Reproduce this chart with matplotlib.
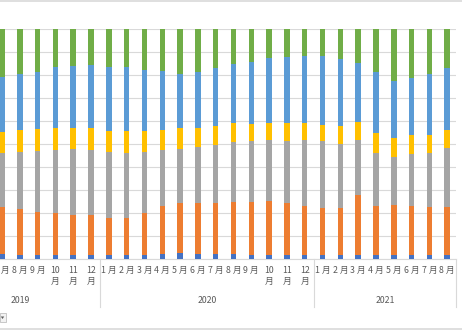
import numpy as np
import matplotlib
matplotlib.use("Agg")
import matplotlib.pyplot as plt
from matplotlib.lines import Line2D
from matplotlib.patches import Rectangle, Polygon

plt.rcParams["font.family"] = ["Noto Sans CJK JP", "DejaVu Sans"]

# 年ごとの月（2019年は4月から始まるが、7月より前は表示範囲外）
years = ["2019", "2020", "2021"]
year_first_month = [4, 1, 1]
months_2019 = [7, 8, 9, 10, 11, 12]
months_2020 = [1, 2, 3, 4, 5, 6, 7, 8, 9, 10, 11, 12]
months_2021 = [1, 2, 3, 4, 5, 6, 7, 8]

# 構成比 (%) 下から順に積み上げ
s1 = [2.2, 1.7, 1.7, 1.7, 1.7, 1.7, 1.7, 1.7, 1.7, 2.2, 2.5, 2.2, 2.2,
      2.2, 1.7, 1.7, 1.7, 1.7, 1.7, 1.7, 1.7, 1.7, 1.7, 1.7, 1.7, 1.7]
s2 = [20.3, 19.9, 18.7, 18.4, 17.4, 17.3, 16.3, 16.3, 18.4, 20.8, 21.7, 22.3, 22.3,
      22.7, 23.2, 23.5, 22.5, 21.5, 20.6, 20.3, 26.1, 21.5, 21.8, 21.5, 21.0, 21.0]
s3 = [23.5, 25.1, 26.6, 27.3, 28.6, 28.4, 28.4, 28.0, 26.3, 24.4, 23.6, 24.3, 25.1,
      26.1, 26.5, 26.5, 27.1, 28.5, 29.0, 28.0, 23.9, 22.8, 21.0, 22.5, 23.3, 25.7]
s4 = [9.3, 9.4, 9.5, 9.6, 9.3, 9.6, 9.3, 9.7, 9.3, 8.7, 9.2, 8.3, 8.2,
      8.0, 7.3, 7.6, 7.7, 7.3, 7.0, 7.8, 7.9, 8.8, 8.2, 8.1, 7.8, 7.7]
s5 = [23.7, 24.5, 24.9, 26.3, 27.0, 27.3, 27.9, 27.9, 26.5, 25.5, 23.6, 24.2, 25.4,
      25.9, 26.8, 28.2, 29.0, 29.4, 30.0, 29.2, 25.6, 26.5, 24.8, 25.0, 26.6, 27.1]
s6 = [21.0, 19.4, 18.6, 16.7, 16.0, 15.7, 16.4, 16.4, 17.8, 18.4, 19.4, 18.7, 16.8,
      15.1, 14.5, 12.5, 12.0, 11.6, 11.7, 13.0, 14.8, 18.7, 22.5, 21.2, 19.6, 16.8]

colors = ["#4472C4", "#ED7D31", "#A5A5A5", "#FFC000", "#5B9BD5", "#70AD47"]


def main():
    series = np.array([s1, s2, s3, s4, s5, s6], dtype=float)
    series = series / series.sum(axis=0) * 100  # 100%積み上げ
    month_groups = [months_2019, months_2020, months_2021]
    months = months_2019 + months_2020 + months_2021
    x = np.arange(len(months))

    fig = plt.figure(figsize=(4.62, 3.30), dpi=100)
    ax = fig.add_axes([-6.9 / 462, 1 - 259 / 330, 463 / 462, 230 / 330])

    bottom = np.zeros(len(months))
    for vals, c in zip(series, colors):
        ax.bar(x, vals, bottom=bottom, width=0.31, color=c, zorder=3)
        bottom += vals

    ax.set_xlim(-0.5, len(months) - 0.5)
    ax.set_ylim(0, 100)
    ax.set_yticks(np.arange(0, 101, 10))
    ax.grid(axis="y", color="#D9D9D9", linewidth=0.8, zorder=0)
    ax.tick_params(left=False, bottom=False, labelleft=False, labelbottom=False)
    for sp in ["left", "right", "top"]:
        ax.spines[sp].set_visible(False)
    ax.spines["bottom"].set_color("#D9D9D9")
    ax.spines["bottom"].set_linewidth(0.8)

    tr = ax.get_xaxis_transform()
    # 月ラベル（2桁の月は2行）
    for xi, m in zip(x, months):
        label = f"{m} 月" if m < 10 else f"{m}\n月"
        ax.text(xi, -0.03, label, transform=tr, ha="center", va="top",
                fontsize=6.3, color="#595959", linespacing=1.25, clip_on=False)

    # 年ラベルと区切り線
    start = 0
    for year, first, group in zip(years, year_first_month, month_groups):
        end = start + len(group) - 1
        left = start - (group[0] - first)
        ax.text((left + end) / 2, -0.18, year, transform=tr, ha="center",
                va="center", fontsize=6.3, color="#595959", clip_on=False)
        ax.plot([end + 0.5, end + 0.5], [0, -0.209], transform=tr,
                color="#D9D9D9", linewidth=0.8, clip_on=False)
        start = end + 1

    # グラフエリアの枠線
    fig.add_artist(Line2D([0, 1], [1 - 0.5 / 330, 1 - 0.5 / 330],
                          color="#D9D9D9", linewidth=1.2))
    fig.add_artist(Line2D([0, 1], [1.2 / 330, 1.2 / 330],
                          color="#D9D9D9", linewidth=1.2))

    # フィールドボタン
    fig.add_artist(Rectangle((-0.5 / 462, 8 / 330), 6 / 462, 9 / 330,
                             transform=fig.transFigure, facecolor="#F2F2F2",
                             edgecolor="#BFBFBF", linewidth=0.6))
    fig.add_artist(Polygon([[0.8 / 462, 13.5 / 330], [4.2 / 462, 13.5 / 330],
                            [2.5 / 462, 11.0 / 330]], closed=True,
                           transform=fig.transFigure, facecolor="#595959",
                           edgecolor="none"))

    fig.savefig("out.png", dpi=100)


if __name__ == "__main__":
    main()
